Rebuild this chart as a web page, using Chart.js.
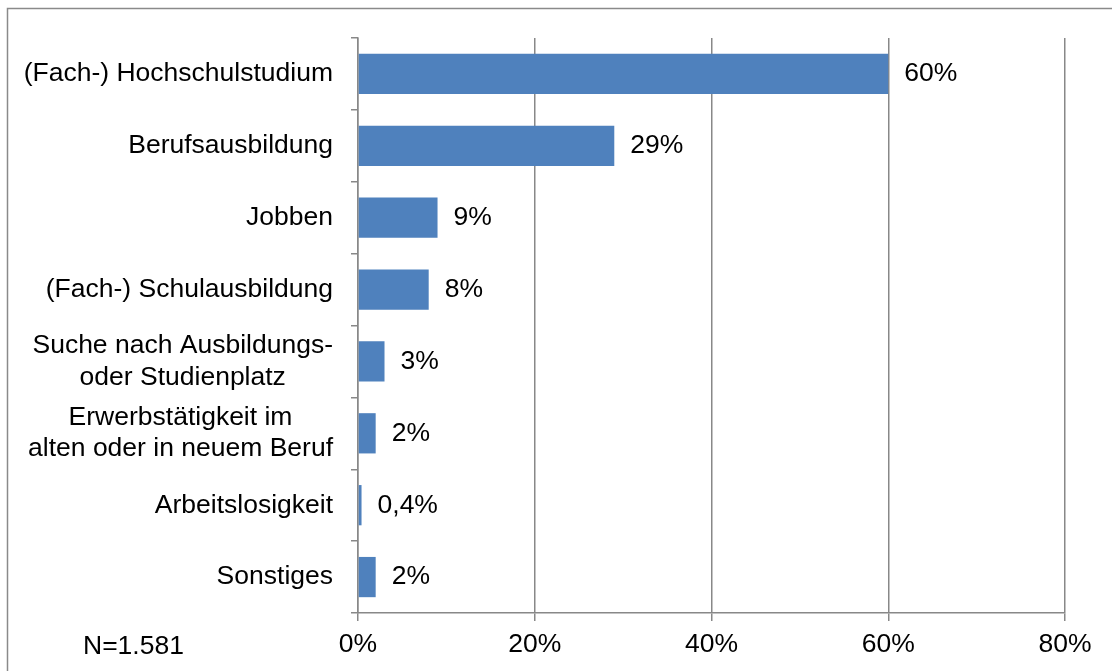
<!DOCTYPE html>
<html lang="de">
<head>
<meta charset="utf-8">
<title>Tätigkeit nach dem Abschluss</title>
<script src="https://cdn.jsdelivr.net/npm/chart.js@4/dist/chart.umd.min.js"></script>
<style>
  html, body { margin: 0; padding: 0; background: #ffffff; }
  #wrap { width: 1112px; height: 671px; position: relative; }
</style>
</head>
<body>
<div id="wrap"><canvas id="chart" width="1112" height="671"></canvas></div>
<script>
// Categories (multi-line labels as arrays)
const categories = [
  ["(Fach-) Hochschulstudium"],
  ["Berufsausbildung"],
  ["Jobben"],
  ["(Fach-) Schulausbildung"],
  ["Suche nach Ausbildungs-", "oder Studienplatz"],
  ["Erwerbstätigkeit im", "alten oder in neuem Beruf"],
  ["Arbeitslosigkeit"],
  ["Sonstiges"]
];
// Shares in percent
const shares = [60, 29, 9, 8, 3, 2, 0.4, 2];
// X axis ticks (percent)
const xTicks = [0, 20, 40, 60, 80];
const sampleNote = "N=1.581";

const FONT = "'Liberation Sans', Arial, sans-serif";
const FONT_SIZE = 26.5;
const GRID = '#888888';
const BAR = '#4F81BD';

const fmt = v => v.toLocaleString('de-DE') + '%';

// Outer frame of the chart
const framePlugin = {
  id: 'frame',
  beforeDraw(chart) {
    const ctx = chart.ctx;
    ctx.save();
    ctx.strokeStyle = '#8a8a8a';
    ctx.lineWidth = 1.5;
    ctx.strokeRect(7.5, 8.5, 1300, 1000);
    ctx.restore();
  }
};

// Category labels: block right-aligned to the axis, lines centred within block
const categoryLabels = {
  id: 'categoryLabels',
  afterDraw(chart) {
    const ctx = chart.ctx;
    const y = chart.scales.y;
    const right = 333;
    const lh = 31.5;
    ctx.save();
    ctx.font = FONT_SIZE + 'px ' + FONT;
    ctx.fillStyle = '#000';
    ctx.textBaseline = 'middle';
    ctx.textAlign = 'center';
    categories.forEach((lines, i) => {
      const cy = y.getPixelForValue(i);
      const w = Math.max(...lines.map(l => ctx.measureText(l).width));
      const cx = right - w / 2;
      const top = cy - (lines.length - 1) * lh / 2;
      lines.forEach((l, k) => ctx.fillText(l, cx, top + k * lh));
    });
    // sample size note on the tick-label line
    ctx.textAlign = 'left';
    ctx.fillText(sampleNote, 83, 647);
    ctx.restore();
  }
};

// Value labels right of each bar
const valueLabels = {
  id: 'valueLabels',
  afterDatasetsDraw(chart) {
    const ctx = chart.ctx;
    const meta = chart.getDatasetMeta(0);
    ctx.save();
    ctx.font = FONT_SIZE + 'px ' + FONT;
    ctx.fillStyle = '#000';
    ctx.textBaseline = 'middle';
    ctx.textAlign = 'left';
    meta.data.forEach((bar, i) => {
      ctx.fillText(fmt(shares[i]), bar.x + 16, bar.y);
    });
    ctx.restore();
  }
};

new Chart(document.getElementById('chart'), {
  type: 'bar',
  data: {
    labels: categories.map(c => c.join(' ')),
    datasets: [{
      data: shares,
      backgroundColor: BAR,
      borderWidth: 0,
      categoryPercentage: 1,
      barPercentage: 0.56
    }]
  },
  options: {
    indexAxis: 'y',
    responsive: false,
    animation: false,
    devicePixelRatio: 1,
    layout: { padding: { top: 38, right: 47, left: 0, bottom: 0 } },
    plugins: { legend: { display: false }, tooltip: { enabled: false } },
    scales: {
      x: {
        min: 0, max: 80,
        afterBuildTicks(scale) { scale.ticks = xTicks.map(v => ({ value: v })); },
        afterFit(scale) { scale.height = 58; },
        ticks: {
          font: { family: FONT, size: FONT_SIZE },
          color: '#000',
          padding: 8,
          callback: v => v + '%'
        },
        grid: { color: GRID, lineWidth: 1.5, tickLength: 8, drawTicks: true },
        border: { color: GRID, width: 1.5 }
      },
      y: {
        afterFit(scale) { scale.width = 358; },
        ticks: { display: false },
        grid: { drawOnChartArea: false, color: GRID, lineWidth: 1.5, tickLength: 7, offset: true },
        border: { color: GRID, width: 1.5 }
      }
    }
  },
  plugins: [framePlugin, categoryLabels, valueLabels]
});
</script>
</body>
</html>
